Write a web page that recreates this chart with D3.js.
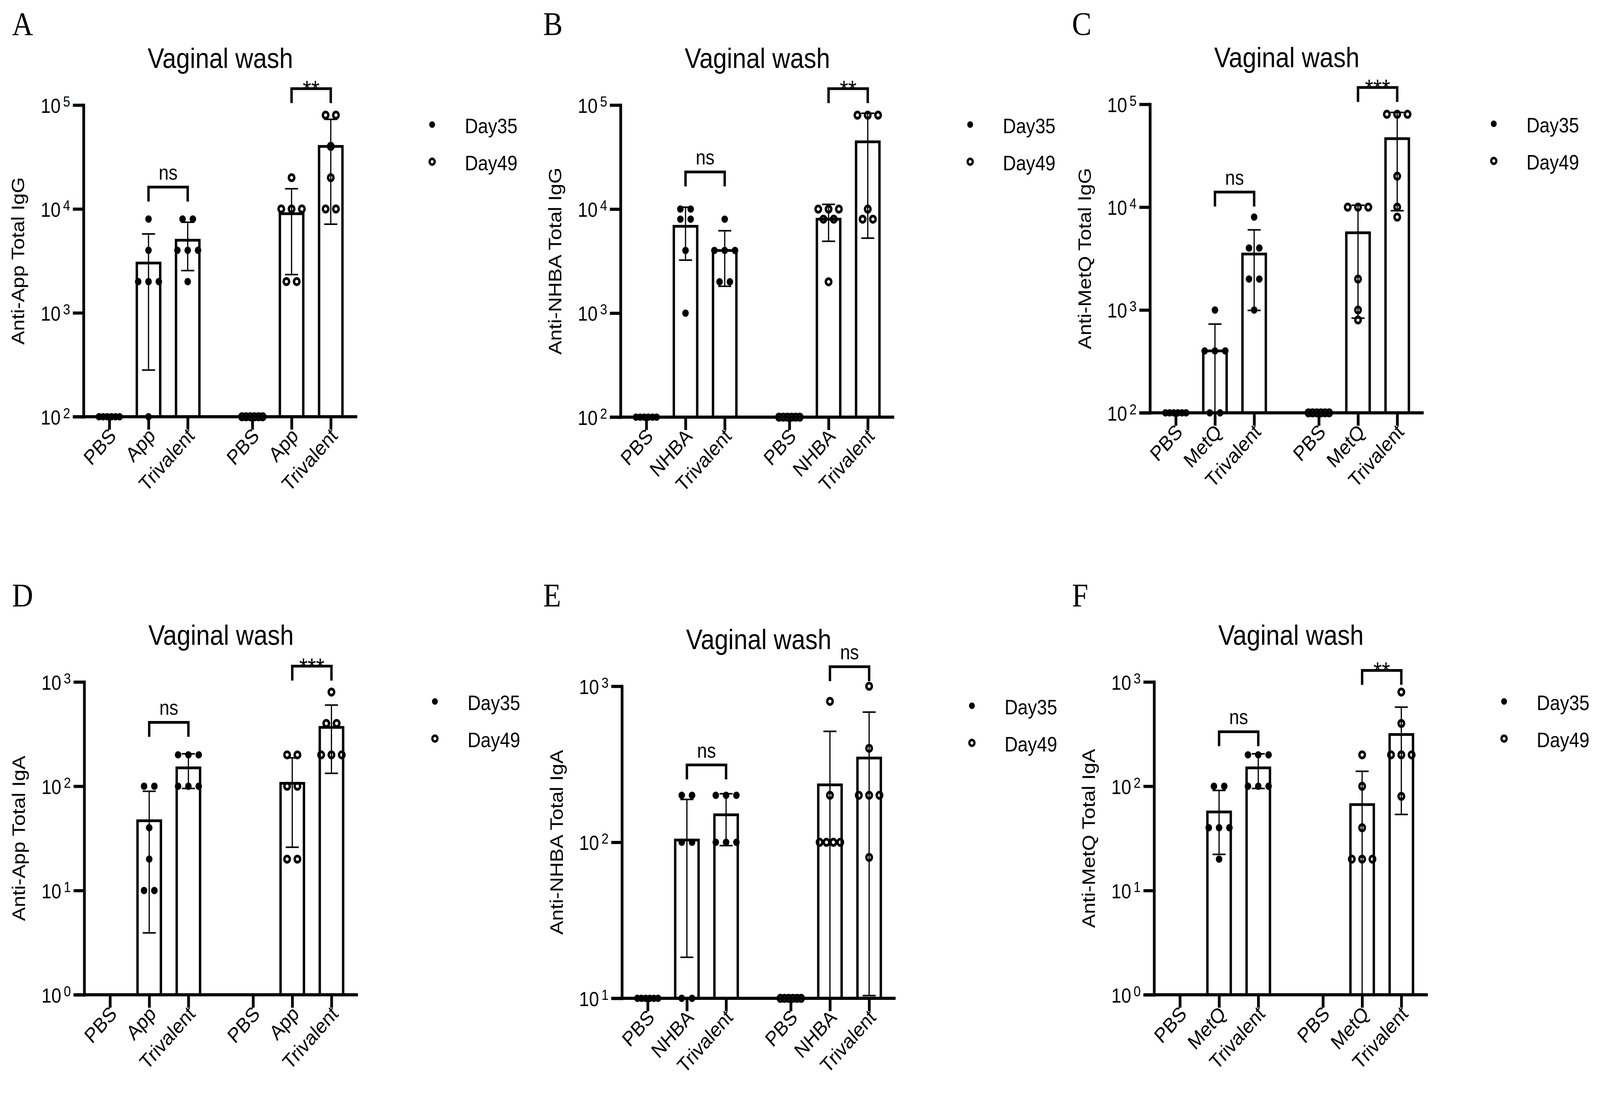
<!DOCTYPE html>
<html>
<head>
<meta charset="utf-8">
<script src="https://cdn.jsdelivr.net/npm/d3@7"></script>
<style>
  html, body { margin: 0; padding: 0; background: #fff; overflow: hidden; }
  #chart svg { display: block; width: 100vw; height: 100vh; }
</style>
</head>
<body>
<div id="chart"></div>
<script>
// ---- data (titers, one array per group) ----
const appGroups = ['PBS', 'App', 'Trivalent']
const nhbaGroups = ['PBS', 'NHBA', 'Trivalent']
const metqGroups = ['PBS', 'MetQ', 'Trivalent']

// A: anti-App IgG
const appIgGDay35 = [[100, 100, 100, 100, 100, 100], [8000, 4000, 2000, 2000, 2000, 100], [8000, 8000, 4000, 4000, 4000, 2000]]
const appIgGDay49 = [[100, 100, 100, 100, 100, 100], [20000, 10000, 10000, 10000, 2000, 2000], [80000, 80000, 40000, 20000, 10000, 10000]]
// B: anti-NHBA IgG
const nhbaIgGDay35 = [[100, 100, 100, 100, 100, 100], [10000, 10000, 8000, 8000, 4000, 1000], [8000, 4000, 4000, 4000, 2000, 2000]]
const nhbaIgGDay49 = [[100, 100, 100, 100, 100, 100], [10000, 10000, 10000, 8000, 8000, 2000], [80000, 80000, 80000, 10000, 8000, 8000]]
// C: anti-MetQ IgG
const metqIgGDay35 = [[100, 100, 100, 100, 100, 100], [1000, 400, 400, 400, 100, 100], [8000, 4000, 4000, 2000, 2000, 1000]]
const metqIgGDay49 = [[100, 100, 100, 100, 100, 100], [10000, 10000, 10000, 2000, 1000, 800], [80000, 80000, 80000, 20000, 10000, 8000]]
// D: anti-App IgA (PBS not detected)
const appIgADay35 = [[], [100, 100, 40, 20, 10, 10], [200, 200, 200, 100, 100, 100]]
const appIgADay49 = [[], [200, 200, 100, 100, 20, 20], [800, 400, 400, 200, 200, 200]]
// E: anti-NHBA IgA
const nhbaIgADay35 = [[10, 10, 10, 10, 10, 10], [200, 200, 100, 100, 10, 10], [200, 200, 200, 100, 100, 100]]
const nhbaIgADay49 = [[10, 10, 10, 10, 10, 10], [800, 200, 100, 100, 100, 100], [1000, 400, 200, 200, 200, 80]]
// F: anti-MetQ IgA (PBS not detected)
const metqIgADay35 = [[], [100, 100, 40, 40, 40, 20], [200, 200, 200, 100, 100, 100]]
const metqIgADay49 = [[], [200, 100, 40, 20, 20, 20], [800, 400, 200, 200, 200, 80]]

// significance brackets: column a..b, bracket height in data units
const sigA = [{ a: 1, b: 2, v: 16250, label: 'ns' }, { a: 4, b: 5, v: 143900, label: '**' }]
const sigB = [{ a: 1, b: 2, v: 22750, label: 'ns' }, { a: 4, b: 5, v: 143900, label: '**' }]
const sigC = [{ a: 1, b: 2, v: 14000, label: 'ns' }, { a: 4, b: 5, v: 145800, label: '***' }]
const sigD = [{ a: 1, b: 2, v: 410, label: 'ns' }, { a: 4, b: 5, v: 1417, label: '***' }]
const sigE = [{ a: 1, b: 2, v: 313, label: 'ns' }, { a: 4, b: 5, v: 1334, label: 'ns' }]
const sigF = [{ a: 1, b: 2, v: 333, label: 'ns' }, { a: 4, b: 5, v: 1291, label: '**' }]

const legendLabels = ['Day35', 'Day49']

// ---- layout ----
const W = 4654
const H = 2801
const SANS = '"Liberation Sans", Arial, Helvetica, sans-serif'
const SERIF = '"Liberation Serif", "Times New Roman", serif'
const positions = [0, 1, 2, 3.65, 4.65, 5.65]

const panels = [
  { letter: 'A', lx: 35, ly: 90, ax: 243, top: 269, bottom: 1067, legDx: 1014, domain: [1e2, 1e5], yLabel: 'Anti-App Total IgG', groups: appGroups, day35: appIgGDay35, day49: appIgGDay49, sig: sigA },
  { letter: 'B', lx: 1580, ly: 90, ax: 1805, top: 269, bottom: 1068, legDx: 1017, domain: [1e2, 1e5], yLabel: 'Anti-NHBA Total IgG', groups: nhbaGroups, day35: nhbaIgGDay35, day49: nhbaIgGDay49, sig: sigB },
  { letter: 'C', lx: 3118, ly: 90, ax: 3345, top: 267, bottom: 1057, legDx: 1000, domain: [1e2, 1e5], yLabel: 'Anti-MetQ Total IgG', groups: metqGroups, day35: metqIgGDay35, day49: metqIgGDay49, sig: sigC },
  { letter: 'D', lx: 35, ly: 1553, ax: 245, top: 1746, bottom: 2547, legDx: 1020, domain: [1e0, 1e3], yLabel: 'Anti-App Total IgA', groups: appGroups, day35: appIgADay35, day49: appIgADay49, sig: sigD },
  { letter: 'E', lx: 1580, ly: 1553, ax: 1809, top: 1757, bottom: 2556, legDx: 1018, domain: [1e1, 1e3], yLabel: 'Anti-NHBA Total IgA', groups: nhbaGroups, day35: nhbaIgADay35, day49: nhbaIgADay49, sig: sigE },
  { letter: 'F', lx: 3118, ly: 1553, ax: 3357, top: 1746, bottom: 2547, legDx: 1018, domain: [1e0, 1e3], yLabel: 'Anti-MetQ Total IgA', groups: metqGroups, day35: metqIgADay35, day49: metqIgADay49, sig: sigF }
]

// the drawing is laid out in a 4654x2801 box and stretched to whatever viewport we get
const svg = d3.select('#chart').append('svg')
  .attr('viewBox', `0 0 ${W} ${H}`)
  .attr('preserveAspectRatio', 'none')
  .attr('font-family', SANS)

svg.append('rect').attr('width', W).attr('height', H).attr('fill', '#fff')

function drawPanel (p) {
  const g = svg.append('g')
  const x = d3.scaleLinear().domain([0, 1]).range([p.ax + 75, p.ax + 75 + 114])
  const y = d3.scaleLog().domain(p.domain).range([p.bottom, p.top])
  const yMin = p.domain[0]
  const xEnd = x(positions[5]) + 77

  // panel letter + title
  g.append('text')
    .attr('x', p.lx).attr('y', p.ly)
    .attr('font-family', SERIF).attr('font-size', 85)
    .text(p.letter)

  g.append('text')
    .attr('x', (p.ax + xEnd) / 2).attr('y', p.top - 95)
    .attr('text-anchor', 'middle').attr('font-size', 72)
    .text('Vaginal wash')

  // y label
  g.append('text')
    .attr('transform', `translate(${p.ax - 172},${(p.top + p.bottom) / 2}) rotate(-90)`)
    .attr('text-anchor', 'middle').attr('font-size', 53)
    .text(p.yLabel)

  const cols = [
    ...p.day35.map((vals, i) => ({ vals, pos: positions[i], day: 35 })),
    ...p.day49.map((vals, i) => ({ vals, pos: positions[i + 3], day: 49 }))
  ]
  cols.forEach((d) => {
    d.mean = d3.mean(d.vals)
    d.sd = d3.deviation(d.vals)
  })

  // bars (mean)
  g.append('g').selectAll('rect')
    .data(cols.filter((d) => d.mean > yMin))
    .join('rect')
    .attr('x', (d) => x(d.pos) - 34)
    .attr('width', 68)
    .attr('y', (d) => y(d.mean))
    .attr('height', (d) => p.bottom - y(d.mean))
    .attr('fill', '#fff')
    .attr('stroke', '#000')
    .attr('stroke-width', 7)

  // axes
  const decades = d3.range(Math.log10(p.domain[0]), Math.log10(p.domain[1]) + 1).map((e) => Math.pow(10, e))

  const yg = g.append('g')
    .attr('transform', `translate(${p.ax},0)`)
    .call(d3.axisLeft(y).tickValues(decades).tickSize(31).tickSizeOuter(0).tickFormat(''))
  yg.attr('font-size', null).attr('font-family', null)
  yg.select('.domain').attr('stroke-width', 8).attr('stroke-linecap', 'square')
  yg.selectAll('.tick line').attr('stroke-width', 8)
  const yt = yg.selectAll('.tick text')
    .attr('x', -39).attr('y', 19).attr('dy', null)
    .attr('text-anchor', 'end').attr('fill', '#000')
    .text(null)
  yt.append('tspan').attr('font-size', 52).text('10')
  yt.append('tspan').attr('font-size', 37).attr('dx', 7).attr('dy', -16)
    .text((d) => Math.round(Math.log10(d)))

  const xg = g.append('g')
    .attr('transform', `translate(0,${p.bottom})`)
    .call(d3.axisBottom(x).tickValues(positions).tickSize(33).tickSizeOuter(0)
      .tickFormat((d, i) => [...p.groups, ...p.groups][i]))
  xg.attr('font-size', null).attr('font-family', null)
  xg.select('.domain').remove()
  xg.selectAll('.tick line').attr('stroke-width', 8)
  xg.selectAll('.tick text')
    .attr('x', 0).attr('y', 0).attr('dy', null)
    .attr('text-anchor', 'end').attr('fill', '#000')
    .attr('font-size', 53)
    .attr('transform', 'translate(22,52) rotate(-45)')

  xg.append('line')
    .attr('x1', p.ax - 31).attr('x2', xEnd)
    .attr('stroke', '#000').attr('stroke-width', 8)

  // error bars (mean ± SD)
  const errs = cols.filter((d) => d.sd > 0)
  const eb = g.append('g').attr('stroke', '#000')
  eb.selectAll('line.stem').data(errs).join('line')
    .attr('class', 'stem')
    .attr('x1', (d) => x(d.pos)).attr('x2', (d) => x(d.pos))
    .attr('y1', (d) => (d.mean - d.sd > yMin ? y(d.mean - d.sd) : p.bottom))
    .attr('y2', (d) => y(d.mean + d.sd))
    .attr('stroke-width', 3.5)

  const caps = errs.flatMap((d) => {
    const out = [{ pos: d.pos, v: d.mean + d.sd }]
    if (d.mean - d.sd > yMin) out.push({ pos: d.pos, v: d.mean - d.sd })
    return out
  })
  eb.selectAll('line.cap').data(caps).join('line')
    .attr('class', 'cap')
    .attr('x1', (d) => x(d.pos) - 19).attr('x2', (d) => x(d.pos) + 19)
    .attr('y1', (d) => y(d.v)).attr('y2', (d) => y(d.v))
    .attr('stroke-width', 4)

  // individual animals, spread sideways when values tie
  const dots = cols.flatMap((d) => {
    return d3.groups(d.vals.filter((v) => v > 0), (v) => v).flatMap(([v, arr]) => {
      const n = arr.length
      const step = n > 1 ? Math.min(30, 60 / (n - 1)) : 0
      return arr.map((_, i) => ({ v, day: d.day, pos: d.pos, dx: (i - (n - 1) / 2) * step }))
    })
  })

  g.append('g').selectAll('circle').data(dots).join('circle')
    .attr('cx', (d) => x(d.pos) + d.dx)
    .attr('cy', (d) => y(d.v))
    .attr('r', (d) => (d.day === 35 ? 9.5 : 8))
    .attr('fill', (d) => (d.day === 35 ? '#000' : 'none'))
    .attr('stroke', (d) => (d.day === 35 ? 'none' : '#000'))
    .attr('stroke-width', 7)

  // significance brackets
  const br = g.append('g')
  br.selectAll('path').data(p.sig).join('path')
    .attr('d', (d) => {
      const x1 = x(positions[d.a])
      const x2 = x(positions[d.b])
      const yy = y(d.v)
      return `M${x1},${yy + 37}V${yy}H${x2}V${yy + 37}`
    })
    .attr('fill', 'none')
    .attr('stroke', '#000')
    .attr('stroke-width', 7)

  br.selectAll('text').data(p.sig).join('text')
    .attr('x', (d) => (x(positions[d.a]) + x(positions[d.b])) / 2)
    .attr('y', (d) => (d.label.includes('*') ? y(d.v) + 23 : y(d.v) - 19))
    .attr('text-anchor', 'middle')
    .attr('font-size', (d) => (d.label.includes('*') ? 63 : 52))
    .text((d) => d.label)

  // legend
  const lg = g.append('g').attr('transform', `translate(${p.ax + p.legDx},${p.top + 50})`)
  lg.selectAll('circle').data(legendLabels).join('circle')
    .attr('cx', 0).attr('cy', (d, i) => i * 95)
    .attr('r', (d, i) => (i === 0 ? 8.5 : 7.5))
    .attr('fill', (d, i) => (i === 0 ? '#000' : 'none'))
    .attr('stroke', (d, i) => (i === 0 ? 'none' : '#000'))
    .attr('stroke-width', 6.5)
  lg.selectAll('text').data(legendLabels).join('text')
    .attr('x', 95).attr('y', (d, i) => i * 95 + 22)
    .attr('font-size', 53)
    .text((d) => d)
}

panels.forEach(drawPanel)
</script>
</body>
</html>
